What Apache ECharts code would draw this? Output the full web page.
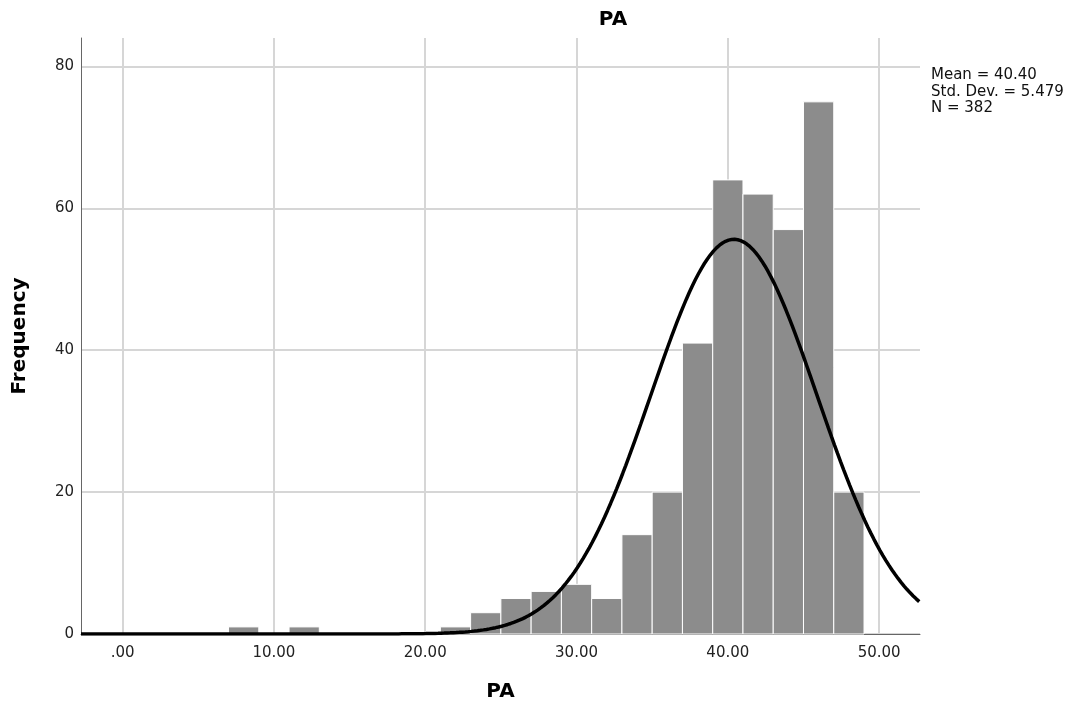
<!DOCTYPE html>
<html><head><meta charset="utf-8">
<script src="https://cdn.jsdelivr.net/npm/echarts@6/dist/echarts.min.js"></script>
<style>html,body{margin:0;padding:0;background:#fff}#c{width:1071px;height:709px}</style>
</head><body><div id="c"></div>
<script>
// Histogram bins (lower edge, upper edge) and frequencies
const binStarts = [7, 11, 21, 23, 25, 27, 29, 31, 33, 35, 37, 39, 41, 43, 45, 47];
const binWidth = 2;
const frequencies = [1, 1, 1, 3, 5, 6, 7, 5, 14, 20, 41, 64, 62, 57, 75, 20];
// Summary statistics shown in the chart
const statMean = 40.40;
const statSD = 5.479;
const statN = 382;
const xTickLabels = {0: '.00', 10: '10.00', 20: '20.00', 30: '30.00', 40: '40.00', 50: '50.00'};
const yTicks = [0, 20, 40, 60, 80];

const xMin = -2.75, xMax = 52.7;
const barData = binStarts.map((s, i) => [s, s + binWidth, frequencies[i]]);

// Fitted normal curve from the displayed mean / SD / N
const curve = [];
for (let x = xMin; x <= xMax + 1e-9; x += 0.2) {
  const z = (x - statMean) / statSD;
  curve.push([x, statN * binWidth * Math.exp(-0.5 * z * z) / (statSD * Math.sqrt(2 * Math.PI))]);
}

const font = '"DejaVu Sans", sans-serif';
const chart = echarts.init(document.getElementById('c'));
chart.setOption({
  animation: false,
  title: [
    {text: 'PA', left: 608, top: 5, textAlign: 'center',
     textStyle: {fontFamily: font, fontSize: 20, fontWeight: 'bold', color: '#000'}},
    {text: 'Mean = ' + statMean.toFixed(2) + '\nStd. Dev. = ' + statSD.toFixed(3) + '\nN = ' + statN,
     left: 931, top: 67, padding: 0,
     textStyle: {fontFamily: font, fontSize: 15, fontWeight: 'normal', color: '#111', lineHeight: 16.5}}
  ],
  grid: {left: 81, right: 151, top: 38, bottom: 75},
  xAxis: {
    type: 'value', min: xMin, max: xMax, splitNumber: 5,
    name: 'PA', nameLocation: 'middle', nameGap: 48,
    nameTextStyle: {fontFamily: font, fontSize: 20, fontWeight: 'bold', color: '#000'},
    axisLine: {show: true, onZero: false, lineStyle: {color: '#666', width: 1}},
    axisTick: {show: false},
    axisLabel: {fontFamily: font, fontSize: 15, color: '#222', margin: 12,
      showMinLabel: false, showMaxLabel: false,
      formatter: v => (xTickLabels[Math.round(v)] !== undefined && Math.abs(v - Math.round(v)) < 1e-6) ? xTickLabels[Math.round(v)] : ''},
    splitLine: {show: true, showMinLine: false, showMaxLine: false, lineStyle: {color: '#d6d6d6', width: 2}}
  },
  yAxis: {
    type: 'value', min: 0, max: 84, interval: 20,
    name: 'Frequency', nameLocation: 'middle', nameGap: 51, nameRotate: 90,
    nameTextStyle: {fontFamily: font, fontSize: 20, fontWeight: 'bold', color: '#000'},
    axisLine: {show: true, onZero: false, lineStyle: {color: '#666', width: 1}},
    axisTick: {show: false},
    axisLabel: {fontFamily: font, fontSize: 15, color: '#222', margin: 7, showMaxLabel: false,
      formatter: v => yTicks.includes(v) ? String(v) : ''},
    splitLine: {show: true, showMaxLine: false, lineStyle: {color: '#d6d6d6', width: 2}}
  },
  series: [
    {
      type: 'custom',
      data: barData,
      encode: {x: [0, 1], y: 2},
      renderItem: function (params, api) {
        const p0 = api.coord([api.value(0), api.value(2)]);
        const p1 = api.coord([api.value(1), 0]);
        return {
          type: 'rect',
          shape: {x: p0[0], y: p0[1], width: p1[0] - p0[0], height: p1[1] - p0[1]},
          style: {fill: '#8c8c8c', stroke: '#ffffff', lineWidth: 1}
        };
      },
      z: 2
    },
    {
      type: 'line', data: curve, showSymbol: false, smooth: false,
      lineStyle: {color: '#000', width: 3.5}, z: 3, clip: true
    }
  ]
});
</script></body></html>
